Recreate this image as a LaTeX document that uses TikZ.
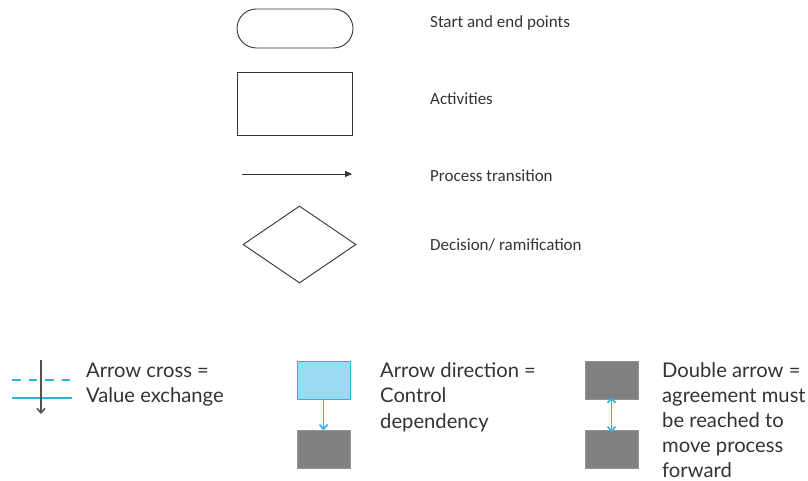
\documentclass[tikz,border=0pt]{standalone}
\usepackage{fontspec}
\setmainfont{Carlito}
\newfontfamily\legendfont{Lato}
\usetikzlibrary{shapes.geometric,shapes.misc,arrows.meta}
\definecolor{cyanline}{HTML}{29B6E3}
\definecolor{cyanfill}{HTML}{9BDAF0}
\definecolor{boxgray}{HTML}{808080}
\definecolor{darkline}{HTML}{333333}
\begin{document}
\begin{tikzpicture}[x=1pt,y=-1pt,
  symbol/.style={draw=darkline,line width=0.9pt},
  toplabel/.style={anchor=base west,inner sep=0pt,font=\fontsize{17}{20}\selectfont,text=darkline},
  % multi-line legend texts are placed by the baseline of their last line
  legendtext/.style={anchor=base west,inner sep=0pt,align=left,text=darkline,
    font=\legendfont\fontsize{20.2}{25.5}\selectfont},
  graybox/.style={fill=boxgray,draw=boxgray!85!white,minimum width=53pt,minimum height=38pt,inner sep=0pt},
  cyanbox/.style={fill=cyanfill,draw=cyanline,line width=1pt,minimum width=53pt,minimum height=38pt,inner sep=0pt},
  cyanarrow/.style={draw=cyanline,line width=1.8pt}
]
\useasboundingbox (0,0) rectangle (808,481);

% --- flowchart symbols ---
\node[symbol,rounded rectangle,minimum width=116pt,minimum height=39pt,inner sep=0pt] (startend) at (295,28.5) {};
\node[symbol,rectangle,minimum width=115pt,minimum height=63pt,inner sep=0pt] (activity) at (294.5,103.5) {};
\coordinate (trA) at (242,174);
\coordinate (trB) at (352,174);
\draw[symbol,-{Triangle[length=7pt,width=6pt]}] (trA) -- (trB);
\node[symbol,diamond,aspect=1.47,minimum width=113pt,minimum height=77pt,inner sep=0pt] (decision) at (299.5,244.5) {};

\node[toplabel] (lstart) at (430,28) {Start and end points};
\node[toplabel] (lact) at (430,105) {Activities};
\node[toplabel] (ltrans) at (430,182) {Process transition};
\node[toplabel] (ldec) at (430,250) {Decision/ ramification};

% --- arrow cross ---
\coordinate (dashL) at (12,380);
\coordinate (dashR) at (72,380);
\coordinate (solL) at (12,398);
\coordinate (solR) at (72,398);
\draw[cyanarrow,dash pattern=on 8.5pt off 8pt] (dashL) -- (dashR);
\draw[cyanarrow] (solL) -- (solR);
\coordinate (crossTop) at (41,360);
\coordinate (crossBot) at (41,414);
\draw[draw=darkline!85!white,line width=1.5pt,-{Straight Barb[length=4.5pt,width=8pt]}] (crossTop) -- (crossBot);
\node[legendtext] (lcross) at (86,402.5) {Arrow cross =\\Value exchange};

% --- control dependency ---
\node[cyanbox] (ctrlA) at (323.5,380) {};
\node[graybox] (ctrlB) at (323.5,449.5) {};
\draw[cyanarrow,line width=1.6pt,-{Straight Barb[length=4.5pt,width=8pt]}] (ctrlA.south) -- (ctrlB.north);
\node[legendtext] (lctrl) at (380,428) {Arrow direction =\\Control\\dependency};

% --- agreement ---
\node[graybox] (agrA) at (611.5,380) {};
\node[graybox] (agrB) at (611.5,449.5) {};
\draw[cyanarrow,line width=1.6pt,{Straight Barb[length=4.5pt,width=8pt]}-{Straight Barb[length=4.5pt,width=8pt]}] ([yshift=2pt]agrA.south) -- ([yshift=-2pt]agrB.north);
\node[legendtext,font=\legendfont\fontsize{20.2}{25}\selectfont] (lagr) at (662,477) {Double arrow =\\agreement must\\be reached to\\move process\\forward};
\end{tikzpicture}
\end{document}
